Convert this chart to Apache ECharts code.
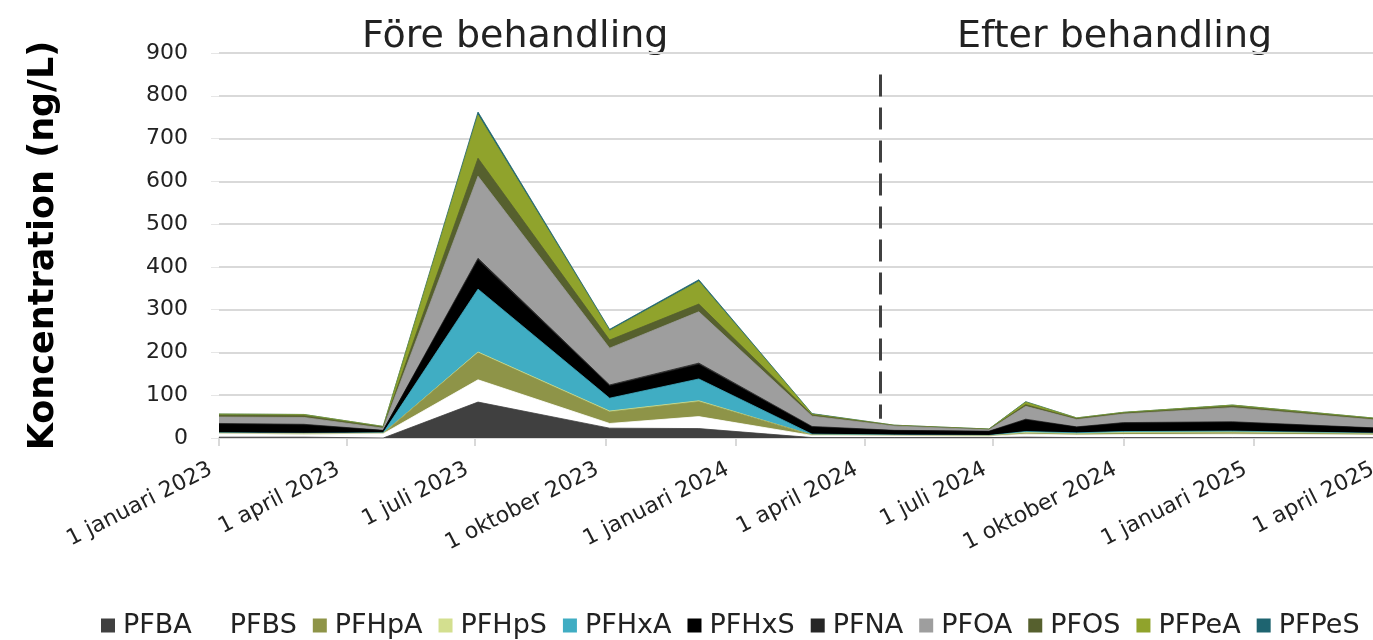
<!DOCTYPE html>
<html>
<head>
<meta charset="utf-8">
<script src="https://cdn.jsdelivr.net/npm/echarts@6/dist/echarts.min.js"></script>
<style>
  html, body { margin: 0; padding: 0; background: #fff; }
  #chart { width: 1373px; height: 640px; }
</style>
</head>
<body>
<div id="chart"></div>
<script>
// provtagningsdatum
var dates = ['2023-01-01', '2023-03-02', '2023-04-27', '2023-07-03', '2023-10-04', '2023-12-06',
             '2024-02-24', '2024-04-22', '2024-06-28', '2024-07-24', '2024-08-29', '2024-10-01',
             '2024-12-17', '2025-04-01'];

var PFBA  = [2, 2, 0, 84, 23, 22, 1, 1, 1, 2, 1, 1, 1, 1];
var PFBS  = [8, 7, 10, 52, 11, 28, 5, 4, 3, 7, 6, 7, 8, 6];
var PFHpA = [1, 1, 1, 63, 27, 35, 1, 1, 1, 2, 2, 3, 3, 2];
var PFHpS = [0, 0, 0, 2, 2, 2, 0, 0, 0, 2, 1, 2, 2, 1];
var PFHxA = [1, 1, 1, 147, 30, 51, 2, 1, 1, 2, 2, 2, 2, 1];
var PFHxS = [20, 19, 5, 67, 28, 33, 16, 10, 9, 27, 13, 19, 20, 11];
var PFNA  = [2, 2, 1, 5, 3, 4, 2, 1, 1, 2, 1, 2, 2, 1];
var PFOA  = [15, 16, 5, 192, 86, 120, 24, 10, 3, 30, 17, 20, 33, 18];
var PFOS  = [4, 4, 2, 42, 19, 18, 3, 1, 1, 4, 2, 2, 3, 2];
var PFPeA = [3, 3, 2, 101, 22, 53, 2, 1, 1, 6, 2, 2, 3, 2];
var PFPeS = [0, 0, 0, 7, 3, 4, 1, 0, 0, 1, 0, 0, 0, 0];

var seriesNames = ['PFBA', 'PFBS', 'PFHpA', 'PFHpS', 'PFHxA', 'PFHxS', 'PFNA', 'PFOA', 'PFOS', 'PFPeA', 'PFPeS'];
var seriesValues = [PFBA, PFBS, PFHpA, PFHpS, PFHxA, PFHxS, PFNA, PFOA, PFOS, PFPeA, PFPeS];
var colors = ['#404040', '#ffffff', '#8e9448', '#d3df8f', '#40adc3', '#000000',
              '#262626', '#9e9e9e', '#56602e', '#90a32c', '#1e6470'];

// x-axelns etiketter (kvartal)
var tickDates = ['2023-01-01', '2023-04-01', '2023-07-01', '2023-10-01', '2024-01-01',
                 '2024-04-01', '2024-07-01', '2024-10-01', '2025-01-01', '2025-04-01'];
var monthNames = ['januari', 'februari', 'mars', 'april', 'maj', 'juni', 'juli',
                  'augusti', 'september', 'oktober', 'november', 'december'];

var treatmentDate = '2024-04-12';
var treatmentLine = [850, 45];

// datum -> dagar sedan startdatum (x-axeln ar en vanlig value-axel)
var DAY = 86400000;
var START = Date.UTC(2023, 0, 1);
function toDay(str) {
  var p = str.split('-');
  return Math.round((Date.UTC(+p[0], +p[1] - 1, +p[2]) - START) / DAY);
}
function dayLabel(day) {
  var d = new Date(START + day * DAY);
  return d.getUTCDate() + ' ' + monthNames[d.getUTCMonth()] + ' ' + d.getUTCFullYear();
}

var chart = echarts.init(document.getElementById('chart'));

// staplingen gors har: varje serie ritas fran 0 till kumulativ summa,
// overst liggande serie forst sa att de undre hamnar framfor
function buildSeries() {
  var series = [];
  var running = dates.map(function () { return 0; });
  var cumulative = [];
  seriesValues.forEach(function (values) {
    running = running.map(function (v, j) { return v + values[j]; });
    cumulative.push(running);
  });
  for (var i = seriesNames.length - 1; i >= 0; i--) {
    var data = [];
    dates.forEach(function (d, j) {
      data.push([toDay(d), cumulative[i][j]]);
    });
    series.push({
      name: seriesNames[i],
      type: 'line',
      data: data,
      showSymbol: false,
      symbol: 'none',
      lineStyle: { width: 0.8, color: colors[i] },
      areaStyle: { color: colors[i], opacity: 1 },
      itemStyle: { color: colors[i] },
      z: 2
    });
  }
  // streckad linje mellan före / efter
  series.push({
    name: 'behandling',
    type: 'line',
    data: [],
    z: 5,
    markLine: {
      silent: true,
      symbol: 'none',
      label: { show: false },
      lineStyle: { type: [22, 11], color: '#404040', width: 3 },
      data: [[
        { coord: [toDay(treatmentDate), treatmentLine[0]] },
        { coord: [toDay(treatmentDate), treatmentLine[1]] }
      ]]
    }
  });
  return series;
}

var tickValues = tickDates.map(toDay);

var option = {
  animation: false,
  color: colors,
  grid: { left: 219, right: -8, top: 53, bottom: 202, outerBoundsMode: 'none' },
  legend: {
    data: seriesNames,
    top: 607,
    left: 96,
    icon: 'rect',
    itemWidth: 14,
    itemHeight: 14,
    itemGap: 16,
    textStyle: { fontFamily: 'DejaVu Sans', fontSize: 27, color: '#222', padding: [0, 0, 0, 3] }
  },
  graphic: [
    { type: 'text', left: 362, top: 18,
      style: { text: 'Före behandling', font: '38px "DejaVu Sans"', fill: '#222' } },
    { type: 'text', left: 957, top: 18,
      style: { text: 'Efter behandling', font: '38px "DejaVu Sans"', fill: '#222' } }
  ],
  xAxis: {
    type: 'value',
    min: tickValues[0],
    max: tickValues[tickValues.length - 1],
    axisLine: { lineStyle: { color: '#d9d9d9', width: 2 } },
    axisTick: { show: true, length: 8, customValues: tickValues, lineStyle: { color: '#d9d9d9', width: 2 } },
    splitLine: { show: false },
    axisLabel: {
      customValues: tickValues,
      rotate: 27,
      margin: 26,
      padding: [0, 9, 0, 0],
      fontFamily: 'DejaVu Sans',
      fontSize: 22,
      color: '#222',
      formatter: dayLabel
    }
  },
  yAxis: {
    type: 'value',
    min: 0,
    max: 900,
    interval: 100,
    name: 'Koncentration (ng/L)',
    nameLocation: 'middle',
    nameGap: 158,
    nameTextStyle: { fontFamily: 'DejaVu Sans', fontWeight: 'bold', fontSize: 35, color: '#000' },
    axisLine: { show: false },
    axisTick: { show: true, length: 8, lineStyle: { color: '#e6e6e6' } },
    splitLine: { lineStyle: { color: '#d9d9d9', width: 2 } },
    axisLabel: { margin: 31, fontFamily: 'DejaVu Sans', fontSize: 22, color: '#222' }
  },
  series: buildSeries()
};

chart.setOption(option);
</script>
</body>
</html>
